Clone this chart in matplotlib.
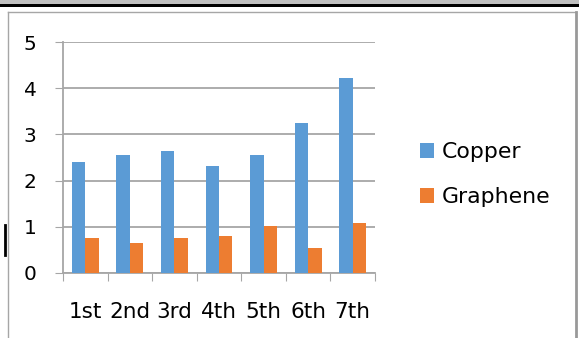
import numpy as np
import matplotlib
matplotlib.use('Agg')
import matplotlib.pyplot as plt
from matplotlib.patches import Rectangle
from matplotlib.lines import Line2D

categories = ['1st', '2nd', '3rd', '4th', '5th', '6th', '7th']
copper = [2.41, 2.55, 2.64, 2.32, 2.55, 3.24, 4.23]
graphene = [0.75, 0.65, 0.76, 0.80, 1.01, 0.54, 1.09]

W, H = 579, 338
fig = plt.figure(figsize=(W / 100, H / 100), dpi=100)

# page decorations around the chart
fig.add_artist(Rectangle((0, 1 - 4 / H), 1, 4 / H, transform=fig.transFigure,
                         facecolor='#c0c0c0', edgecolor='none'))
fig.add_artist(Rectangle((0, 1 - 7 / H), 1, 3 / H, transform=fig.transFigure,
                         facecolor='black', edgecolor='none'))
fig.add_artist(Line2D([8 / W, 8 / W], [0, 1 - 12 / H], transform=fig.transFigure,
                      color='#a6a6a6', lw=1))
fig.add_artist(Line2D([8 / W, 576 / W], [1 - 12 / H, 1 - 12 / H], transform=fig.transFigure,
                      color='#a6a6a6', lw=1))
fig.add_artist(Line2D([576 / W, 576 / W], [0, 1 - 12 / H], transform=fig.transFigure,
                      color='#999999', lw=2))
fig.add_artist(Line2D([5 / W, 5 / W], [1 - 225 / H, 1 - 255 / H], transform=fig.transFigure,
                      color='black', lw=2))

ax = fig.add_axes([63 / W, 1 - 273 / H, 312 / W, 231 / H])
x = np.arange(len(categories))
w = 0.3
ax.bar(x - w / 2, copper, w, color='#5b9bd5', label='Copper', zorder=3)
ax.bar(x + w / 2, graphene, w, color='#ed7d31', label='Graphene', zorder=3)

ax.set_xlim(-0.5, len(categories) - 0.5)
ax.set_ylim(0, 5)
ax.set_yticks(range(0, 6))
ax.yaxis.grid(True, color='#a6a6a6', lw=1.3, zorder=0)
ax.set_xticks(np.arange(-0.5, len(categories), 1), minor=False)
ax.set_xticklabels([])
ax.set_xticks(x, minor=True)
ax.set_xticklabels(categories, minor=True, fontsize=15.5)
ax.tick_params(axis='x', which='major', length=6, color='#a6a6a6', direction='out')
ax.tick_params(axis='x', which='minor', length=0, pad=21)
ax.tick_params(axis='y', length=6, color='#a6a6a6', labelsize=14.5, pad=13)

for s in ['top', 'right']:
    ax.spines[s].set_visible(False)
for s in ['left', 'bottom']:
    ax.spines[s].set_color('#a6a6a6')
    ax.spines[s].set_linewidth(1.3)

ax.legend(loc='center left', bbox_to_anchor=(1.08, 0.425), frameon=False,
          fontsize=15.8, handlelength=0.65, handleheight=0.65, handletextpad=0.35,
          labelspacing=1.15)

fig.savefig('out.png', dpi=100)
